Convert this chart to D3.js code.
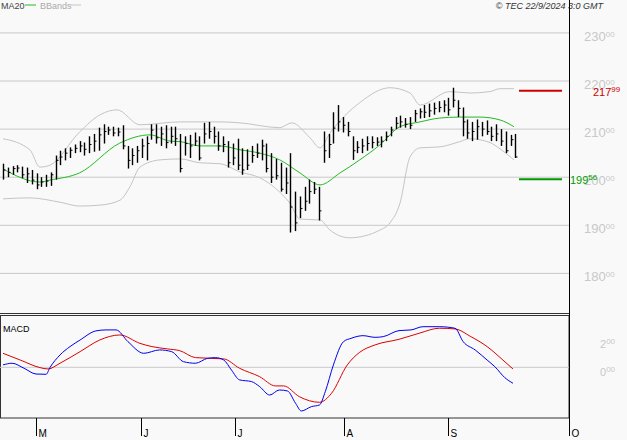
<!DOCTYPE html>
<html>
<head>
<meta charset="utf-8">
<script src="https://cdn.jsdelivr.net/npm/d3@7"></script>
<style>
body { margin: 0; background: #f9f9f9; }
text { font-family: Arial, "Liberation Sans", sans-serif; }
</style>
</head>
<body>
<script>
var width = 627, height = 440;

// daily bars, index 0 = ~22 Apr 2024
var highs = [202.8,202,202.3,202.5,202.2,202,201.5,200.8,200,200.5,201,204.5,205.5,206,206.2,206.8,207.5,207.2,208.5,209,
  210.3,211,210.5,210.5,210.3,210.8,206.5,206,206.5,208,208.5,211,211,210.5,210.8,210.5,210.5,209,208.5,208.8,
  209.3,208.5,211.3,211.5,210.5,209.5,208.5,207.5,207,208,206,205.8,206.5,207,207.8,207,205,203.8,203,202,
  205,197,196,198,199.5,199,198,209.5,209,213.5,215,212.5,211.5,208.5,207.5,208,208.5,208.5,208.3,208.5,
  209.5,210.5,212.5,212.8,212.3,212.5,214,214.3,215,215.3,215.5,215.8,216,216.5,218.6,216,214.5,212,211.5,212,
  211.5,211.8,210.5,211,210,209.5,208.8,209];
var lows = [199.5,200,200.5,201,199.8,198.8,198.5,197.5,198,198,198.2,199.5,202.5,203.5,204,205,205.2,204.5,205,205.3,
  205.5,207,208.8,208.5,208.5,205.8,201.8,202.5,203,204,203.5,207.8,207,206.5,206,207,206.5,201,204.5,204,
  206.5,203.5,207,208,207,205.5,205.2,202,202.5,201.5,200.5,201.5,203,204,203.5,201,198.8,199.5,197,196.5,
  188.5,188.8,191.5,193,194.5,196.5,191,203,204,207,209.5,209.3,208.5,203.6,205,205,205.5,206,206.5,206.2,
  207.5,208.5,210,210.3,210.3,210,211.5,212.2,212.3,212.5,213,213.5,213.5,212.8,214.5,212.5,208.5,208,207.5,207.8,
  208.5,208.8,207.5,207.5,206.5,205,206.5,204];
var closes = [201.5,201,201.8,201.9,200.5,200.7,199.4,198.4,199,199.2,200.5,203.5,204.2,205,205.6,206,206.5,205.8,206.8,207.5,
  208.8,209.5,209.8,209.2,209.4,206.5,203.5,204.5,205.5,206.5,207,209.8,208.2,209,207.2,208.5,208,201.8,207,206.5,
  207.5,204,209,209.5,208.5,206.5,206.8,203,204,202.5,201.5,202.5,204.5,205,206.5,201.8,200,200.3,197.5,198.8,
  193.8,190.5,193.5,195,197,197.5,193,205.5,206.8,210.2,211.5,210.8,209.5,205.5,206.2,206.5,207,207.2,207.3,207.5,
  208.5,209.8,211.2,211.5,211,210.8,213.2,213.6,213.5,213.8,214.3,214.5,215,214,216,214.3,211.5,209.2,209.5,210.5,
  210,209.5,208.5,209,207.5,205.5,207.8,204.2];

// MA20 and Bollinger bands (bar index, value)
var maIdx = [0,7.7,9.8,16,24.4,30.7,34.9,37,41.1,45.3,49.5,53.6,57.8,62,66.2,70.4,74.5,78.7,82.9,87.1,91.2,95.4,99.6,103.8,106.7];
var maVal = [201.7,199,199.4,200.9,207.1,208.8,207.5,207.4,206.5,206.5,205.7,205,203.6,200.9,198.4,200.9,203.6,206.7,210.5,211.5,212.3,212.5,212.5,211.9,210.5];
var upIdx = [0,5.6,7.7,9.8,16,20.3,23.8,28.6,37,45.3,49.5,57.8,60.3,64.1,66.2,68.3,74.5,80.8,85,87.1,93.3,97.5,101.7,103.8,106.7];
var upVal = [208,205.7,202.1,202.5,209.4,213,214,210.9,211.5,211.5,211.3,210.3,211.3,208.2,206.1,209.2,215.5,218.6,217.5,215,217.8,217.5,217.8,218.4,218.4];
var loIdx = [0,5.6,11.9,16,20.3,24.4,26.5,28.6,32.8,37,41.1,45.3,49.5,53.6,57.8,59.9,62,66.2,68.3,72.4,78.7,80.8,82.9,85,87.1,91.2,95.4,97.5,101.7,103.8,106.7];
var loVal = [195.5,195.7,194.8,194,194.2,195.2,198,202.1,203.6,203.8,203,202.8,201.1,199.9,196.9,194.6,191.3,191.1,189,187.4,189,190.5,194.6,204.2,206.1,206.3,207.4,208,207.2,205.9,203.6];

// MACD (blue) and signal (red)
var macdIdx = [0,1.9,4.4,6.9,9,9.8,11.9,14,16.1,19.4,21.5,23.6,26.1,29.4,32.7,35.2,37.7,40.2,42.7,44.4,46.1,47.7,49.4,51.9,53.6,55.7,57.7,59.4,61.1,62.3,64.4,66.1,67.3,69,71.1,72.7,75.2,77.7,79.4,82.7,85.2,87.7,91.1,94.4,96.1,98.6,101.1,102.7,104.8,106.5];
var macdVal = [0.17,0.29,-0.07,-0.48,-0.5,-0.02,0.88,1.48,1.95,2.6,2.67,2.67,1.83,1.0,1.24,1.12,0.4,0.29,0.64,0.69,0.52,-0.19,-0.9,-1.02,-1.38,-1.98,-1.62,-1.69,-2.57,-3.12,-2.81,-2.69,-1.74,0.17,1.83,2.07,2.26,2.14,2.19,2.62,2.67,2.9,2.9,2.79,1.83,1.24,0.52,0.05,-0.74,-1.14];
var sigIdx = [0,3.6,7.7,9.4,11.9,16.1,20.2,24.4,28.6,31.1,34.4,36.9,40.2,46.1,49.4,53.6,56.9,58.6,61.9,66.1,68.6,71.9,74.4,77.7,82.7,86.9,91.1,94.4,97.7,101.1,104.4,106.5];
var sigVal = [1.0,0.52,-0.02,-0.12,0.29,1.12,1.95,2.31,1.71,1.48,1.31,1.19,0.69,0.6,-0.07,-0.67,-1.33,-1.33,-2.1,-2.5,-1.86,0.17,1.05,1.6,2.0,2.43,2.79,2.74,2.19,1.48,0.52,-0.12];

var priceTicks = [180, 190, 200, 210, 220, 230];
var macdTicks = [0, 2];
var monthLabels = ["M", "J", "J", "A", "S", "O"];
var monthIdx = [6.9, 28.8, 48.4, 71.2, 92.9, 118.2];
var resistance = 217.99, support = 199.56;

var svg = d3.select("body").append("svg")
  .attr("width", width).attr("height", height);

var x = d3.scaleLinear().domain([0, 118.2]).range([3, 569]);
var y = d3.scaleLinear().domain([190, 220]).range([225.3, 81]);
var ym = d3.scaleLinear().domain([0, 2]).range([367.3, 339.3]);

function supText(sel, v, dec) {
  var s = v.toFixed(2).split(".");
  sel.append("tspan").text(s[0]);
  sel.append("tspan").attr("font-size", 8).attr("dy", -4).text(s[1]);
}

// price grid + labels
priceTicks.forEach(function(t) {
  svg.append("line").attr("x1", 0).attr("x2", 569).attr("y1", y(t)).attr("y2", y(t))
    .attr("stroke", "#c8c8c8");
  var tx = svg.append("text").attr("x", 584).attr("y", y(t) + 8)
    .attr("fill", "#c8c8c8").attr("font-size", 13);
  supText(tx, t);
});

// bands
var line = d3.line().curve(d3.curveMonotoneX);
function series(idx, val, ys) { return idx.map(function(d, i) { return [x(d), ys(val[i])]; }); }
svg.append("path").attr("d", line(series(upIdx, upVal, y))).attr("fill", "none").attr("stroke", "#c4c4c4");
svg.append("path").attr("d", line(series(loIdx, loVal, y))).attr("fill", "none").attr("stroke", "#c4c4c4");
svg.append("path").attr("d", line(series(maIdx, maVal, y))).attr("fill", "none").attr("stroke", "#22bb22");

// bars
var bars = svg.append("g").attr("stroke", "#000");
closes.forEach(function(c, i) {
  var bx = Math.round(x(i)) + 0.5;
  bars.append("line").attr("x1", bx).attr("x2", bx).attr("y1", y(highs[i])).attr("y2", y(lows[i]))
    .attr("stroke-width", 1.4);
  bars.append("line").attr("x1", bx).attr("x2", bx + 2).attr("y1", y(c)).attr("y2", y(c));
});

// resistance / support
svg.append("line").attr("x1", 519).attr("x2", 562).attr("y1", y(resistance)).attr("y2", y(resistance))
  .attr("stroke", "#cc0000").attr("stroke-width", 2);
svg.append("line").attr("x1", 519).attr("x2", 562).attr("y1", y(support)).attr("y2", y(support))
  .attr("stroke", "#009900").attr("stroke-width", 2);
var rt = svg.append("text").attr("x", 593).attr("y", y(resistance) + 5).attr("fill", "#cc0000").attr("font-size", 11);
supText(rt, resistance);
var st = svg.append("text").attr("x", 570).attr("y", y(support) + 5).attr("fill", "#009900").attr("font-size", 11);
supText(st, support);

// legend
svg.append("text").attr("x", 1).attr("y", 9).attr("font-size", 9).attr("fill", "#444").text("MA20");
svg.append("line").attr("x1", 25).attr("x2", 36).attr("y1", 5).attr("y2", 5).attr("stroke", "#22bb22");
svg.append("text").attr("x", 40).attr("y", 9).attr("font-size", 9).attr("fill", "#aaa").text("BBands");
svg.append("line").attr("x1", 70).attr("x2", 81).attr("y1", 5).attr("y2", 5).attr("stroke", "#c4c4c4");
svg.append("text").attr("x", 603).attr("y", 9).attr("font-size", 9).attr("font-style", "italic")
  .attr("text-anchor", "end").attr("fill", "#333").text("© TEC 22/9/2024 3:0 GMT");

// MACD panel
svg.append("rect").attr("x", 0.5).attr("y", 315.5).attr("width", 568.5).attr("height", 102.5)
  .attr("fill", "none").attr("stroke", "#333");
svg.append("line").attr("x1", 0).attr("x2", 569).attr("y1", ym(0)).attr("y2", ym(0)).attr("stroke", "#c8c8c8");
macdTicks.forEach(function(t) {
  var tx = svg.append("text").attr("x", 600).attr("y", ym(t) + 9).attr("fill", "#c8c8c8").attr("font-size", 11);
  supText(tx, t);
});
svg.append("text").attr("x", 3).attr("y", 332).attr("font-size", 9).attr("fill", "#000").text("MACD");
svg.append("path").attr("d", line(series(sigIdx, sigVal, ym))).attr("fill", "none").attr("stroke", "#dd0000");
svg.append("path").attr("d", line(series(macdIdx, macdVal, ym))).attr("fill", "none").attr("stroke", "#0000ee");

// price panel bottom & right axis
svg.append("line").attr("x1", 0).attr("x2", 569).attr("y1", 313.5).attr("y2", 313.5).attr("stroke", "#333");
svg.append("line").attr("x1", 569.5).attr("x2", 569.5).attr("y1", 0).attr("y2", 418).attr("stroke", "#000");

// month axis
monthIdx.forEach(function(m, i) {
  var mx = Math.round(x(m)) + 0.5;
  svg.append("line").attr("x1", mx).attr("x2", mx).attr("y1", 418).attr("y2", 436).attr("stroke", "#000");
  svg.append("text").attr("x", mx + 2).attr("y", 437).attr("font-size", 10).text(monthLabels[i]);
});
</script>
</body>
</html>
